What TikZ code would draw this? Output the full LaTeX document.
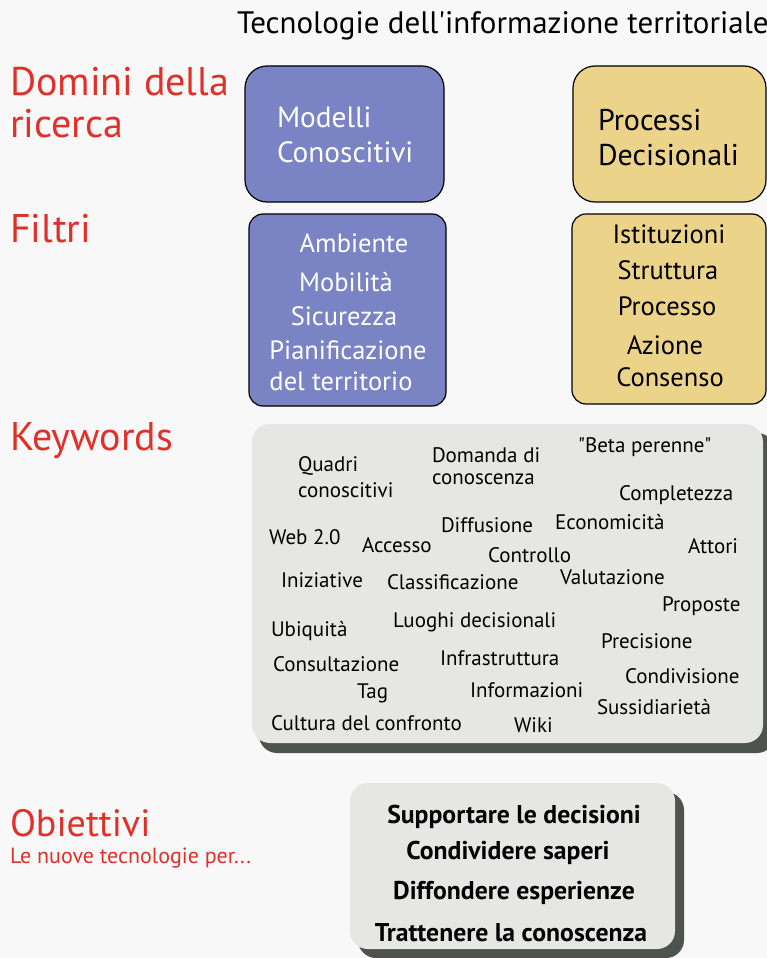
\documentclass[tikz,border=0pt]{standalone}
\usepackage{fontspec}
\setmainfont{PT Sans}[Ligatures=TeXOff]
\definecolor{bg}{HTML}{F8F8F8}
\definecolor{bluebox}{HTML}{7A84C4}
\definecolor{yellowbox}{HTML}{EBD38A}
\definecolor{graybox}{HTML}{E6E6E4}
\definecolor{shadowc}{HTML}{4F5350}
\definecolor{redlab}{HTML}{E0302A}
\begin{document}
\begin{tikzpicture}[x=1pt,y=-1pt,
  every node/.style={inner sep=0pt,outer sep=0pt},
  title/.style={font=\fontsize{31}{33}\selectfont,anchor=base west},
  redlab/.style={text=redlab,font=\fontsize{40}{42}\selectfont,anchor=base west},
  redsmall/.style={text=redlab,font=\fontsize{22}{24}\selectfont,anchor=base west},
  boxtxt/.style={font=\fontsize{30}{32}\selectfont,anchor=base west},
  filtxt/.style={font=\fontsize{26.5}{28}\selectfont},
  kw/.style={font=\fontsize{21}{23}\selectfont,anchor=west},
  obj/.style={font=\bfseries\fontsize{25.7}{28}\selectfont},
  domainbox/.style={draw=black,line width=1.2pt,rounded corners=22pt},
  filterbox/.style={draw=black,line width=1.2pt,rounded corners=14pt},
]
\clip (0,0) rectangle (767,958);
\fill[bg] (0,0) rectangle (767,958);

% title
\node[title] (title) at (237,34) {Tecnologie dell'informazione territoriale};

% left labels
\node[redlab] (domini) at (10,95) {Domini della};
\node[redlab] (ricerca) at (10,137) {ricerca};
\node[redlab] (filtri) at (10,242) {Filtri};
\node[redlab] (keywords) at (10,450) {Keywords};
\node[redlab,font=\fontsize{38}{40}\selectfont] (obiettivi) at (10,836) {Obiettivi};
\node[redsmall] (nuove) at (10,863) {Le nuove tecnologie per...};

% domain boxes
\draw[domainbox,fill=bluebox] (245,66) rectangle (444,202);
\node[minimum width=199pt,minimum height=136pt] (modbox) at (344.5,134) {};
\draw[domainbox,fill=yellowbox] (573,66) rectangle (766,202);
\node[minimum width=193pt,minimum height=136pt] (procbox) at (669.5,134) {};
\node[boxtxt,text=white,font=\fontsize{29.3}{31}\selectfont] (modelli) at (277,127) {Modelli};
\node[boxtxt,text=white,font=\fontsize{29.3}{31}\selectfont] (conosc) at (277,162) {Conoscitivi};
\node[boxtxt] (processi) at (598,130) {Processi};
\node[boxtxt] (decis) at (598,165) {Decisionali};

% filter boxes
\draw[filterbox,fill=bluebox] (249,214) rectangle (446,406);
\node[minimum width=197pt,minimum height=192pt] (filblue) at (347.5,310) {};
\draw[filterbox,fill=yellowbox] (572,214) rectangle (766,404);
\node[minimum width=194pt,minimum height=190pt] (filyel) at (669,309) {};
\begin{scope}[every node/.append style={filtxt,text=white}]
\node (amb) at (354,243) {Ambiente};
\node (mob) at (346,282) {Mobilità};
\node (sic) at (344,316) {Sicurezza};
\node (pian) at (348,350) {Pianificazione};
\node (terr) at (341,381) {del territorio};
\end{scope}
\begin{scope}[every node/.append style={filtxt}]
\node (ist) at (669,234) {Istituzioni};
\node (strut) at (668,270) {Struttura};
\node (procs) at (667,306) {Processo};
\node (az) at (665,345) {Azione};
\node (cons) at (670,377) {Consenso};
\end{scope}

% keywords box
\fill[shadowc,rounded corners=18pt] (259,433) rectangle (775,753);
\fill[graybox,rounded corners=18pt] (252,424) rectangle (763,743);
\node[minimum width=511pt,minimum height=319pt] (kwbox) at (507.5,583.5) {};
\node[kw] (k1) at (298,466) {Quadri};
\node[kw] (k2) at (298,490) {conoscitivi};
\node[kw] (k3) at (432,455) {Domanda di};
\node[kw] (k4) at (432,479) {conoscenza};
\node[kw] (k5) at (578,447) {"Beta perenne"};
\node[kw] (k6) at (619,495) {Completezza};
\node[kw] (k7) at (441,525) {Diffusione};
\node[kw] (k8) at (555,522) {Economicità};
\node[kw] (k9) at (269,537) {Web 2.0};
\node[kw] (k10) at (362,545) {Accesso};
\node[kw] (k11) at (488,555) {Controllo};
\node[kw] (k12) at (688,546) {Attori};
\node[kw] (k13) at (281,580) {Iniziative};
\node[kw] (k14) at (387,582) {Classificazione};
\node[kw] (k15) at (560,577) {Valutazione};
\node[kw] (k16) at (662,606) {Proposte};
\node[kw] (k17) at (393,622) {Luoghi decisionali};
\node[kw] (k18) at (271,631) {Ubiquità};
\node[kw] (k19) at (601,641) {Precisione};
\node[kw] (k20) at (273,664) {Consultazione};
\node[kw] (k21) at (440,658) {Infrastruttura};
\node[kw] (k22) at (625,676) {Condivisione};
\node[kw] (k23) at (357,693) {Tag};
\node[kw] (k24) at (470,690) {Informazioni};
\node[kw] (k25) at (597,707) {Sussidiarietà};
\node[kw] (k26) at (271,723) {Cultura del confronto};
\node[kw] (k27) at (514,725) {Wiki};

% objectives box
\fill[shadowc,rounded corners=18pt] (358,792) rectangle (684,958);
\fill[graybox,rounded corners=18pt] (350,783) rectangle (675,949);
\node[minimum width=325pt,minimum height=166pt] (objbox) at (512.5,866) {};
\node[obj] (o1) at (514,817) {Supportare le decisioni};
\node[obj] (o2) at (508,853) {Condividere saperi};
\node[obj] (o3) at (514,893) {Diffondere esperienze};
\node[obj] (o4) at (511,933) {Trattenere la conoscenza};
\end{tikzpicture}
\end{document}
